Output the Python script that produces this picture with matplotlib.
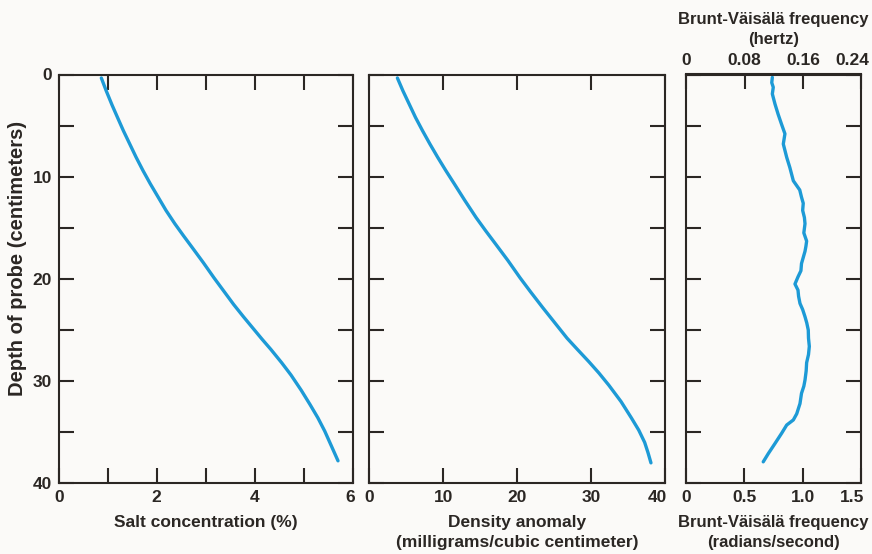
import numpy as np
import matplotlib
matplotlib.use("Agg")
import matplotlib.pyplot as plt
import matplotlib.transforms as mtransforms

# ---- data ----
salt_depth = [0.34, 1.6, 3.0, 4.2, 5.5, 6.8, 8.1, 9.4, 10.7, 12.0, 13.3, 14.6, 15.8, 16.9, 18.4,
              19.9, 21.2, 22.5, 23.7, 24.8, 25.9, 26.9, 28.2, 29.4, 30.9, 32.3, 33.6, 34.9, 36.4, 37.8]
salt_conc = [0.87, 0.97, 1.09, 1.20, 1.32, 1.45, 1.58, 1.72, 1.87, 2.03, 2.19, 2.37, 2.55, 2.72, 2.95,
             3.17, 3.37, 3.57, 3.77, 3.96, 4.15, 4.33, 4.55, 4.74, 4.95, 5.13, 5.29, 5.43, 5.57, 5.70]

dens_depth = [0.34, 1.6, 2.9, 4.2, 5.5, 6.8, 8.1, 9.4, 10.7, 12.3, 14.0, 15.3, 16.6, 18.2, 19.9,
              21.3, 22.8, 24.3, 25.8, 26.9, 28.1, 29.2, 30.4, 32.0, 33.6, 34.8, 36.0, 37.0, 38.0]
dens_anom = [3.8, 4.55, 5.4, 6.25, 7.2, 8.2, 9.25, 10.35, 11.5, 12.9, 14.45, 15.75, 17.1, 18.75, 20.4,
             21.85, 23.45, 25.1, 26.75, 28.15, 29.7, 31.05, 32.4, 34.05, 35.45, 36.45, 37.25, 37.7, 38.1]

bv_depth = [0.28, 0.8, 1.25, 1.9, 2.9, 3.9, 4.9, 5.8, 6.8, 8.1, 9.1, 10.4, 11.3, 12.0, 12.6, 13.3,
            14.0, 14.6, 15.5, 16.3, 16.8, 17.3, 17.9, 18.5, 19.2, 19.8, 20.5, 21.1, 21.7, 22.4,
            23.0, 23.7, 24.3, 25.0, 25.8, 26.6, 27.4, 28.2, 29.0, 29.9, 30.5, 31.2, 32.2, 33.2,
            33.8, 34.3, 35.1, 36.1, 37.1, 37.9]
bv_freq = [0.74, 0.735, 0.748, 0.74, 0.763, 0.79, 0.82, 0.848, 0.834, 0.863, 0.89, 0.92, 0.975, 0.99, 1.005, 1.0,
           1.015, 1.02, 1.01, 1.034, 1.028, 1.02, 1.005, 0.99, 0.985, 0.96, 0.934, 0.96, 0.965, 0.977,
           1.0, 1.02, 1.035, 1.048, 1.05, 1.057, 1.05, 1.034, 1.03, 1.02, 1.01, 0.99, 0.977, 0.949,
           0.92, 0.863, 0.82, 0.763, 0.705, 0.662]

depth_ticks = [0, 5, 10, 15, 20, 25, 30, 35, 40]
depth_labels = ["0", "", "10", "", "20", "", "30", "", "40"]
salt_ticks = [0, 1, 2, 3, 4, 5, 6]
salt_labels = ["0", "", "2", "", "4", "", "6"]
dens_ticks = [0, 10, 20, 30, 40]
dens_labels = ["0", "10", "20", "30", "40"]
bv_ticks = [0, 0.5, 1.0, 1.5]
bv_labels = ["0", "0.5", "1.0", "1.5"]
hz_ticks = [0, 0.08, 0.16, 1.5 / (2 * np.pi)]
hz_labels = ["0", "0.08", "0.16", "0.24"]

BG = "#fbfaf8"
LINE = "#1d9ad6"
INK = "#2b2724"
FONT = ["Liberation Sans", "DejaVu Sans"]

plt.rcParams["font.family"] = FONT
plt.rcParams["text.color"] = INK
plt.rcParams["axes.labelcolor"] = INK
plt.rcParams["xtick.color"] = INK
plt.rcParams["ytick.color"] = INK

fig = plt.figure(figsize=(8.72, 5.54), dpi=100, facecolor=BG)
H = 554.0
W = 872.0
bottom = 1 - 483.3 / H
height = (483.3 - 74.5) / H
ax1 = fig.add_axes([58.7 / W, bottom, (352.7 - 58.7) / W, height])
ax2 = fig.add_axes([369.3 / W, bottom, (665.0 - 369.3) / W, height])
ax3 = fig.add_axes([686.0 / W, bottom, (861.0 - 686.0) / W, height])

TICKLEN = 10.5
FS = 12.5
LW = 2.4
for ax in (ax1, ax2, ax3):
    ax.set_facecolor(BG)
    ax.set_ylim(40, 0)
    ax.set_yticks(depth_ticks)
    for sp in ax.spines.values():
        sp.set_linewidth(1.5)
        sp.set_color(INK)
    ax.tick_params(axis="both", which="both", direction="in", length=TICKLEN, width=1.5,
                   labelsize=FS, pad=5)
    ax.tick_params(axis="y", left=True, right=True)


def shift_label(lab, dx_px):
    off = mtransforms.ScaledTranslation(dx_px / 100.0, 0, fig.dpi_scale_trans)
    lab.set_transform(lab.get_transform() + off)


# Panel 1: salt concentration
ax1.plot(salt_conc, salt_depth, color=LINE, lw=LW, solid_capstyle="round", solid_joinstyle="round")
ax1.set_xlim(0, 6)
ax1.set_xticks(salt_ticks)
ax1.set_xticklabels(salt_labels, fontweight="bold")
ax1.tick_params(axis="x", top=True, bottom=True)
ax1.set_yticklabels(depth_labels, fontweight="bold")
ax1.set_xlabel("Salt concentration (%)", fontsize=FS, fontweight="bold", labelpad=7)
ax1.set_ylabel("Depth of probe (centimeters)", fontsize=14.5, fontweight="bold")
ax1.yaxis.set_label_coords(-0.108, 0.551)
shift_label(ax1.get_xticklabels()[-1], -3)

# Panel 2: density anomaly
ax2.plot(dens_anom, dens_depth, color=LINE, lw=LW, solid_capstyle="round", solid_joinstyle="round")
ax2.set_xlim(0, 40)
ax2.set_xticks(dens_ticks)
ax2.set_xticklabels(dens_labels, fontweight="bold")
ax2.tick_params(axis="x", top=True, bottom=True)
ax2.set_yticklabels([])
ax2.set_xlabel("Density anomaly\n(milligrams/cubic centimeter)", fontsize=FS,
               fontweight="bold", labelpad=7, linespacing=1.4)
shift_label(ax2.get_xticklabels()[-1], -8)

# Panel 3: Brunt-Vaisala frequency
ax3.plot(bv_freq, bv_depth, color=LINE, lw=LW, solid_capstyle="round", solid_joinstyle="round")
ax3.set_xlim(0, 1.5)
ax3.set_xticks(bv_ticks)
ax3.set_xticklabels(bv_labels, fontweight="bold")
ax3.tick_params(axis="x", top=False, bottom=True)
ax3.set_yticklabels([])
ax3.set_xlabel("Brunt-Väisälä frequency\n(radians/second)", fontsize=12,
               fontweight="bold", labelpad=7, linespacing=1.4)
shift_label(ax3.get_xticklabels()[-1], -9)

sec = ax3.secondary_xaxis("top", functions=(lambda x: x / (2 * np.pi), lambda x: x * 2 * np.pi))
sec.tick_params(axis="x", direction="in", length=TICKLEN, width=1.5, labelsize=FS, pad=5,
                colors=INK)
sec.set_xticks(hz_ticks)
sec.set_xticklabels(hz_labels, fontweight="bold")
sec.spines["top"].set_linewidth(1.5)
sec.spines["top"].set_color(INK)
sec.set_xlabel("Brunt-Väisälä frequency\n(hertz)", fontsize=12, fontweight="bold",
               labelpad=6, linespacing=1.4)
shift_label(sec.get_xticklabels()[-1], -9)

fig.savefig("out.png", dpi=100, facecolor=BG)
